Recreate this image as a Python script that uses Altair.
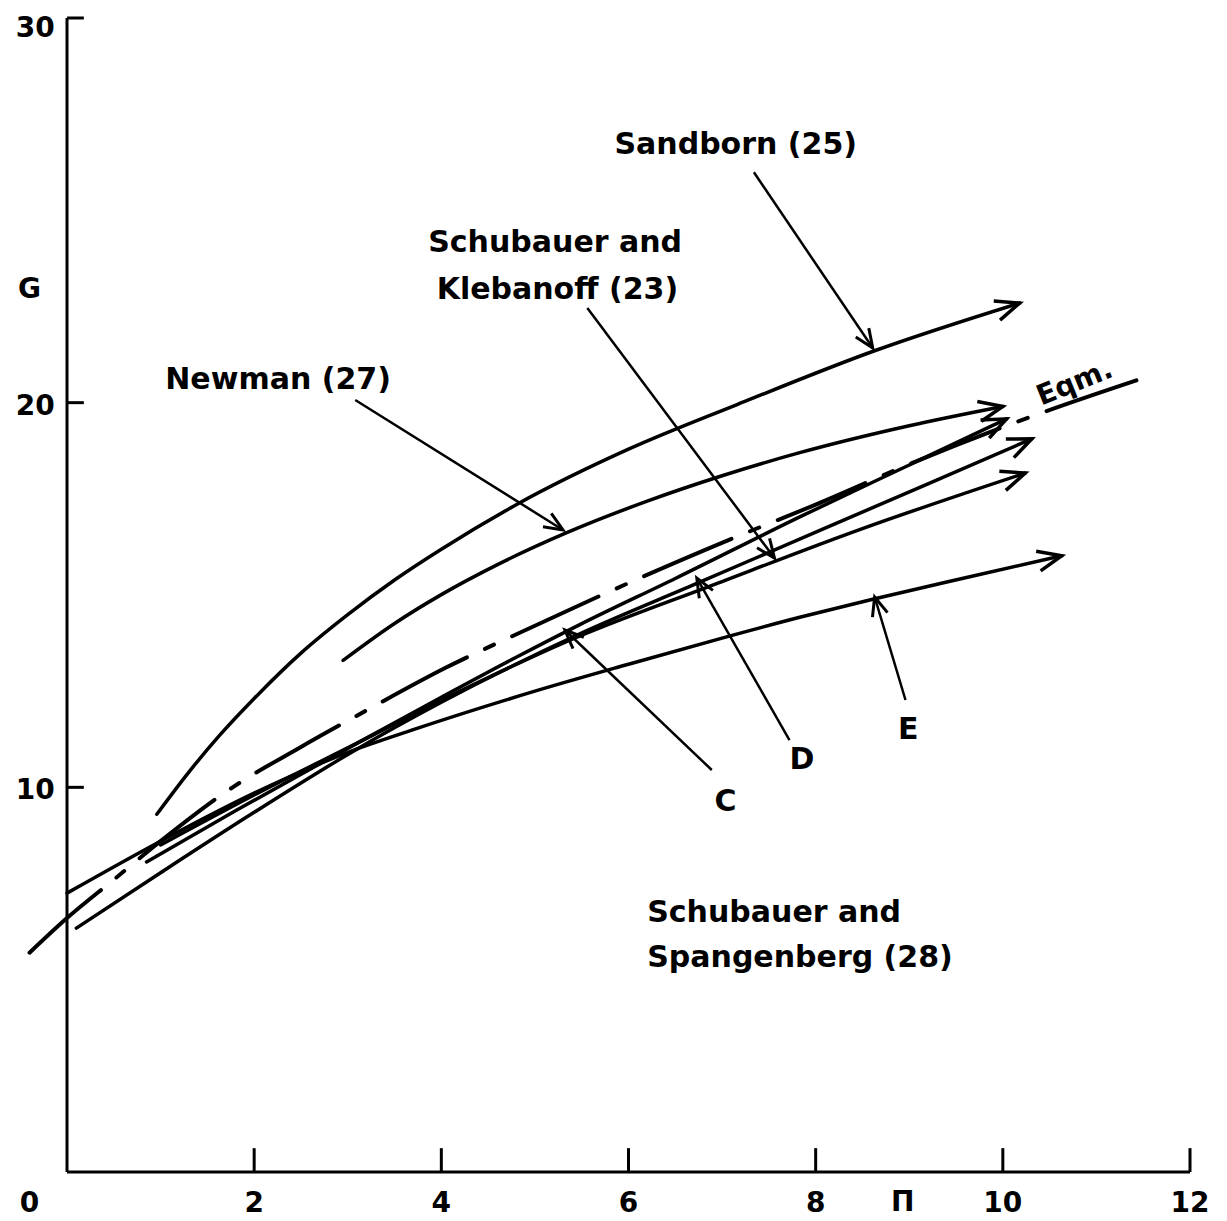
import math
import altair as alt
import pandas as pd

# ---------------- plot geometry ----------------
W, H = 1123, 1154
X_MAX, Y_MAX = 12, 30
PX = W / X_MAX
PY = H / Y_MAX

# ---------------- data ----------------
sandborn_x = [0.96, 1.3, 1.63, 2.0, 2.5, 3.0, 3.5, 4.0, 4.81, 6.0, 7.16, 8.63, 10.18]
sandborn_y = [9.3, 10.39, 11.35, 12.31, 13.49, 14.49, 15.39, 16.19, 17.36, 18.79, 19.95, 21.35, 22.59]

newman_x = [2.95, 3.5, 4.0, 4.6, 5.34, 6.2, 7.0, 7.83, 9.0, 10.0]
newman_y = [13.3, 14.26, 15.01, 15.79, 16.62, 17.44, 18.1, 18.7, 19.4, 19.9]

klebanoff_x = [0.85, 1.8, 2.7, 3.2, 4.0, 4.8, 5.48, 6.5, 7.83, 9.0, 10.04]
klebanoff_y = [8.06, 9.39, 10.61, 11.28, 12.34, 13.38, 14.23, 15.43, 17.03, 18.38, 19.58]

c_x = [1.0, 2.0, 3.1, 4.2, 5.3, 7.0, 8.47, 10.24]
c_y = [8.5, 9.8, 11.15, 12.5, 13.75, 15.35, 16.7, 18.17]

d_x = [0.1, 1.0, 2.0, 3.06, 4.0, 5.48, 6.73, 8.15, 9.2, 10.31]
d_y = [6.34, 7.78, 9.35, 10.94, 12.21, 13.99, 15.3, 16.79, 17.89, 19.06]

e_x = [0.0, 1.0, 2.0, 3.1, 3.7, 5.0, 6.0, 7.0, 7.83, 8.61, 9.6, 10.63]
e_y = [7.25, 8.6, 9.85, 11.0, 11.5, 12.5, 13.2, 13.88, 14.42, 14.89, 15.45, 16.02]

eqm_x = [-0.4, 0.0, 0.5, 1.0, 1.77, 2.5, 3.2, 4.04, 5.0, 6.12, 7.12, 8.0, 9.0, 10.15, 11.54]
eqm_y = [5.7, 6.6, 7.6, 8.6, 10.0, 11.05, 12.0, 13.1, 14.2, 15.44, 16.48, 17.35, 18.4, 19.5, 20.67]

# pointer arrows (label -> curve)
ptr_x0 = [7.34, 5.56, 3.08, 6.89, 7.72, 8.96]
ptr_y0 = [25.99, 22.46, 20.07, 10.45, 11.23, 12.27]
ptr_x1 = [8.61, 7.56, 5.30, 5.32, 6.73, 8.63]
ptr_y1 = [21.42, 15.96, 16.69, 14.09, 15.44, 14.95]

# annotation texts
label_text = ["Sandborn (25)", "Schubauer and", "Klebanoff (23)", "Newman (27)",
              "C", "D", "E", "Schubauer  and", "Spangenberg (28)"]
label_x = [5.85, 3.86, 3.95, 1.05, 6.92, 7.72, 8.88, 6.2, 6.2]
label_y = [26.7, 24.15, 22.93, 20.59, 9.62, 10.71, 11.49, 6.73, 5.56]

eqm_label = "Eqm."
eqm_lx, eqm_ly = 10.77, 20.5

# axes
x_ticks = [2, 4, 6, 8, 10, 12]
x_tick_labels = ["2", "4", "6", "8", "10", "12"]
y_ticks = [10, 20, 30]
y_tick_labels = ["10", "20", "30"]
y_label_pos = [9.9, 19.9, 29.72]

# ---------------- tables ----------------
curves = {
    "Sandborn": (sandborn_x, sandborn_y),
    "Newman": (newman_x, newman_y),
    "Klebanoff": (klebanoff_x, klebanoff_y),
    "C": (c_x, c_y),
    "D": (d_x, d_y),
    "E": (e_x, e_y),
}
rows = []
for name, (xs, ys) in curves.items():
    for i, (a, b) in enumerate(zip(xs, ys)):
        rows.append(dict(curve=name, x=a, y=b, i=i))
df_curves = pd.DataFrame(rows)
df_eqm = pd.DataFrame(dict(x=eqm_x, y=eqm_y, i=list(range(len(eqm_x)))))


def heading(x0, y0, x1, y1):
    return math.degrees(math.atan2(-(y1 - y0) * PY, (x1 - x0) * PX)) % 360


df_heads = pd.DataFrame([
    dict(x=xs[-1], y=ys[-1], angle=heading(xs[-2], ys[-2], xs[-1], ys[-1]))
    for xs, ys in curves.values()
])
df_ptr = pd.DataFrame(dict(x=ptr_x0, y=ptr_y0, x2=ptr_x1, y2=ptr_y1))
df_ptr_heads = pd.DataFrame(dict(
    x=ptr_x1, y=ptr_y1,
    angle=[heading(a, b, c, d) for a, b, c, d in zip(ptr_x0, ptr_y0, ptr_x1, ptr_y1)]))

df_labels = pd.DataFrame(dict(text=label_text, x=label_x, y=label_y))

axis_rows = [dict(x=0, y=0, x2=0, y2=Y_MAX), dict(x=0, y=0, x2=X_MAX, y2=0)]
for t in x_ticks:
    axis_rows.append(dict(x=t, y=0, x2=t, y2=0.62))
for t in y_ticks:
    axis_rows.append(dict(x=0, y=t, x2=0.18, y2=t))
df_axis = pd.DataFrame(axis_rows)

df_xlab = pd.DataFrame(dict(x=[-0.4] + x_ticks, y=[-0.82] * (len(x_ticks) + 1),
                            text=["0"] + x_tick_labels))
df_ylab = pd.DataFrame(dict(x=[-0.34] * len(y_ticks), y=y_label_pos, text=y_tick_labels))
df_names = pd.DataFrame(dict(x=[-0.4, 8.93], y=[22.93, -0.8], text=["G", "Π"]))
df_eqm_lab = pd.DataFrame(dict(x=[eqm_lx], y=[eqm_ly], text=[eqm_label]))

# ---------------- encodings ----------------
xs_ = alt.Scale(domain=[0, X_MAX], nice=False, zero=False)
ys_ = alt.Scale(domain=[0, Y_MAX], nice=False, zero=False)
X = alt.X("x:Q", scale=xs_, axis=None)
Y = alt.Y("y:Q", scale=ys_, axis=None)

FONT = "DejaVu Sans"
ARROW = "M-1,-0.42L0,0L-1,0.42"

axis_layer = alt.Chart(df_axis).mark_rule(color="black", strokeWidth=3).encode(
    x=X, y=Y, x2="x2:Q", y2="y2:Q")

curve_layer = alt.Chart(df_curves).mark_line(
    color="black", strokeWidth=3.5, strokeCap="round", interpolate="monotone"
).encode(x=X, y=Y, detail="curve:N", order="i:Q")

eqm_layer = alt.Chart(df_eqm).mark_line(
    color="black", strokeWidth=4, strokeCap="round", interpolate="monotone",
    strokeDash=[95, 20, 10, 20]
).encode(x=X, y=Y, order="i:Q")

heads_layer = alt.Chart(df_heads).mark_point(
    shape=ARROW, filled=False, color="black", strokeWidth=3.5, size=2300, opacity=1
).encode(x=X, y=Y, angle=alt.Angle("angle:Q", scale=None))

ptr_layer = alt.Chart(df_ptr).mark_rule(color="black", strokeWidth=2.5).encode(
    x=X, y=Y, x2="x2:Q", y2="y2:Q")

ptr_heads_layer = alt.Chart(df_ptr_heads).mark_point(
    shape=ARROW, filled=False, color="black", strokeWidth=3, size=1400, opacity=1
).encode(x=X, y=Y, angle=alt.Angle("angle:Q", scale=None))

labels_layer = alt.Chart(df_labels).mark_text(
    align="left", baseline="middle", font=FONT, fontSize=30, fontWeight="bold", color="black"
).encode(x=X, y=Y, text="text:N")

xlab_layer = alt.Chart(df_xlab).mark_text(
    align="center", baseline="middle", font=FONT, fontSize=28, fontWeight="bold", color="black"
).encode(x=X, y=Y, text="text:N")

ylab_layer = alt.Chart(df_ylab).mark_text(
    align="center", baseline="middle", font=FONT, fontSize=28, fontWeight="bold", color="black"
).encode(x=X, y=Y, text="text:N")

names_layer = alt.Chart(df_names).mark_text(
    align="center", baseline="middle", font=FONT, fontSize=28, fontWeight="bold", color="black"
).encode(x=X, y=Y, text="text:N")

eqm_lab_layer = alt.Chart(df_eqm_lab).mark_text(
    align="center", baseline="middle", font=FONT, fontSize=28, fontWeight="bold",
    color="black", angle=338
).encode(x=X, y=Y, text="text:N")

chart = alt.layer(
    axis_layer, curve_layer, eqm_layer, heads_layer, ptr_layer, ptr_heads_layer,
    labels_layer, xlab_layer, ylab_layer, names_layer, eqm_lab_layer
).properties(
    width=W, height=H,
    padding={"left": 59, "top": 10, "right": 20, "bottom": 46},
    autosize=alt.AutoSizeParams(type="none"),
    background="white",
).configure_view(stroke=None)

chart.save("out.html", embed_options={"renderer": "svg", "actions": False})
